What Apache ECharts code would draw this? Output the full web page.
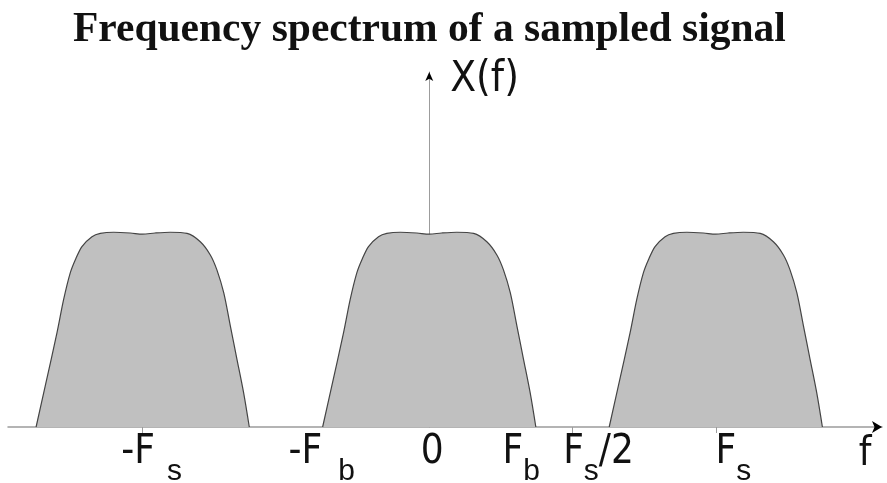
<!DOCTYPE html>
<html>
<head>
<meta charset="utf-8">
<script src="https://cdn.jsdelivr.net/npm/echarts@6/dist/echarts.min.js"></script>
<style>
  html, body { margin: 0; padding: 0; background: #ffffff; }
  #chart { width: 887px; height: 483px; }
</style>
</head>
<body>
<div id="chart"></div>
<script>
// Frequency axis is expressed in units of the sampling rate Fs.
const FB = 0.3735;                 // band edge Fb / Fs
const replicaCenters = [-1, 0, 1]; // spectral images at -Fs, 0, Fs

// Baseband magnitude |X(f)|: frequency offsets (in Fs) and magnitudes
const shapeFreq = [-0.372, -0.340, -0.299, -0.276, -0.253, -0.235, -0.212, -0.177, -0.148, -0.101, -0.043, 0,
                   0.043, 0.096, 0.155, 0.201, 0.236, 0.259, 0.283, 0.306, 0.329, 0.352, 0.372];
const shapeMag  = [0, 0.212, 0.486, 0.656, 0.793, 0.862, 0.930, 0.981, 0.998, 1.004, 1.0, 0.994,
                   1.0, 1.004, 0.998, 0.955, 0.887, 0.810, 0.691, 0.520, 0.349, 0.178, 0];

// Frequency axis marks
const tickValues  = [-1, 0.5, 1];
const labelValues = [-1, -FB, 0, FB, 0.5, 1];
const labelMain   = ['-F', '-F', '0', 'F', 'F', 'F'];
const labelSub    = ['s', 'b', '', 'b', 's', ''];
const labelTail   = ['', '', '', '', '/2', ''];
const labelSub2   = ['', '', '', '', '', 's'];

// Label nudging (px): spacer left / right of each label, gap before subscript
const padLeft  = [18, 0, 6, 0, 52, 35];
const padRight = [0, 1, 0, 30, 0, 0];
const subGap   = [12, 16, 0, 0, 0, 0];

const NARROW = "'Liberation Sans Narrow', 'DejaVu Sans Condensed', 'Liberation Sans', sans-serif";
const INK = '#111111';
const AXIS_GRAY = '#9c9c9c';

const rich = {
  m:   { fontFamily: NARROW, fontSize: 40, color: INK, lineHeight: 44, verticalAlign: 'top' },
  sub: { fontFamily: "'Liberation Sans', sans-serif", fontSize: 30, color: INK, lineHeight: 30,
         padding: [24, 0, 0, 0], verticalAlign: 'top' }
};
labelValues.forEach((v, i) => {
  rich['L' + i] = { width: padLeft[i], lineHeight: 44, verticalAlign: 'top' };
  rich['R' + i] = { width: padRight[i], lineHeight: 44, verticalAlign: 'top' };
  rich['G' + i] = { width: subGap[i], lineHeight: 44, verticalAlign: 'top' };
});

function formatFreqLabel(value) {
  const i = labelValues.findIndex(v => Math.abs(v - value) < 1e-6);
  if (i < 0) return '';
  let s = '';
  if (padLeft[i]) s += '{L' + i + '|}';
  s += '{m|' + labelMain[i] + '}';
  if (subGap[i]) s += '{G' + i + '|}';
  if (labelSub[i]) s += '{sub|' + labelSub[i] + '}';
  if (labelTail[i]) s += '{m|' + labelTail[i] + '}';
  if (labelSub2[i]) s += '{sub|' + labelSub2[i] + '}';
  if (padRight[i]) s += '{R' + i + '|}';
  return s;
}

const X_MIN = -1.47, X_MAX = 1.58, Y_MAX = 1.83;

const series = replicaCenters.map(c => ({
  type: 'line',
  xAxisIndex: 0,
  yAxisIndex: 0,
  data: shapeFreq.map((f, i) => [c + f, shapeMag[i]]),
  smooth: 0.3,
  showSymbol: false,
  lineStyle: { color: '#444444', width: 1.2 },
  areaStyle: { color: '#c0c0c0', opacity: 1 },
  silent: true
}));

const chart = echarts.init(document.getElementById('chart'), null, { renderer: 'canvas' });
chart.setOption({
  animation: false,
  backgroundColor: '#ffffff',
  title: {
    text: 'Frequency spectrum of a sampled signal',
    left: 68,
    top: 4,
    textStyle: { fontFamily: "'Liberation Serif', 'Times New Roman', serif", fontWeight: 'bold', fontSize: 41.5, color: INK }
  },
  grid: { left: 8, right: 5, top: 72, bottom: 56, containLabel: false, outerBoundsMode: 'none' },
  xAxis: [
    {
      type: 'value', min: X_MIN, max: X_MAX, position: 'bottom',
      name: 'f', nameLocation: 'end', nameGap: -17,
      nameTextStyle: { fontFamily: NARROW, fontSize: 40, color: INK, align: 'center',
                       verticalAlign: 'top', lineHeight: 44, padding: [6, 0, 0, 0] },
      axisLine: { show: true, lineStyle: { color: AXIS_GRAY, width: 1.5 } },
      axisTick: { show: true, customValues: tickValues, length: 6, inside: false,
                  lineStyle: { color: AXIS_GRAY, width: 1 } },
      axisLabel: { show: true, customValues: labelValues, margin: 6, formatter: formatFreqLabel, rich: rich },
      splitLine: { show: false }
    },
    {
      // arrowhead of the frequency axis
      type: 'value', min: X_MIN, max: X_MAX, position: 'bottom',
      axisLine: { show: true, symbol: ['none', 'arrow'], symbolSize: [9, 10],
                  lineStyle: { color: '#000000', width: 0 } },
      axisTick: { show: false }, axisLabel: { show: false }, splitLine: { show: false }
    }
  ],
  yAxis: [
    {
      type: 'value', min: 0, max: Y_MAX, position: 'left',
      name: 'X(f)', nameLocation: 'end', nameGap: -8,
      nameTextStyle: { fontFamily: NARROW, fontSize: 42, color: INK, align: 'left',
                       verticalAlign: 'middle', padding: [0, 0, 0, 21] },
      axisLine: { show: true, onZero: true, lineStyle: { color: AXIS_GRAY, width: 1 } },
      axisTick: { show: false }, axisLabel: { show: false }, splitLine: { show: false }
    },
    {
      // arrowhead of the magnitude axis
      type: 'value', min: 0, max: Y_MAX, position: 'left',
      axisLine: { show: true, onZero: true, symbol: ['none', 'arrow'], symbolSize: [6, 9],
                  lineStyle: { color: '#000000', width: 0 } },
      axisTick: { show: false }, axisLabel: { show: false }, splitLine: { show: false }
    }
  ],
  series: series
});
</script>
</body>
</html>
